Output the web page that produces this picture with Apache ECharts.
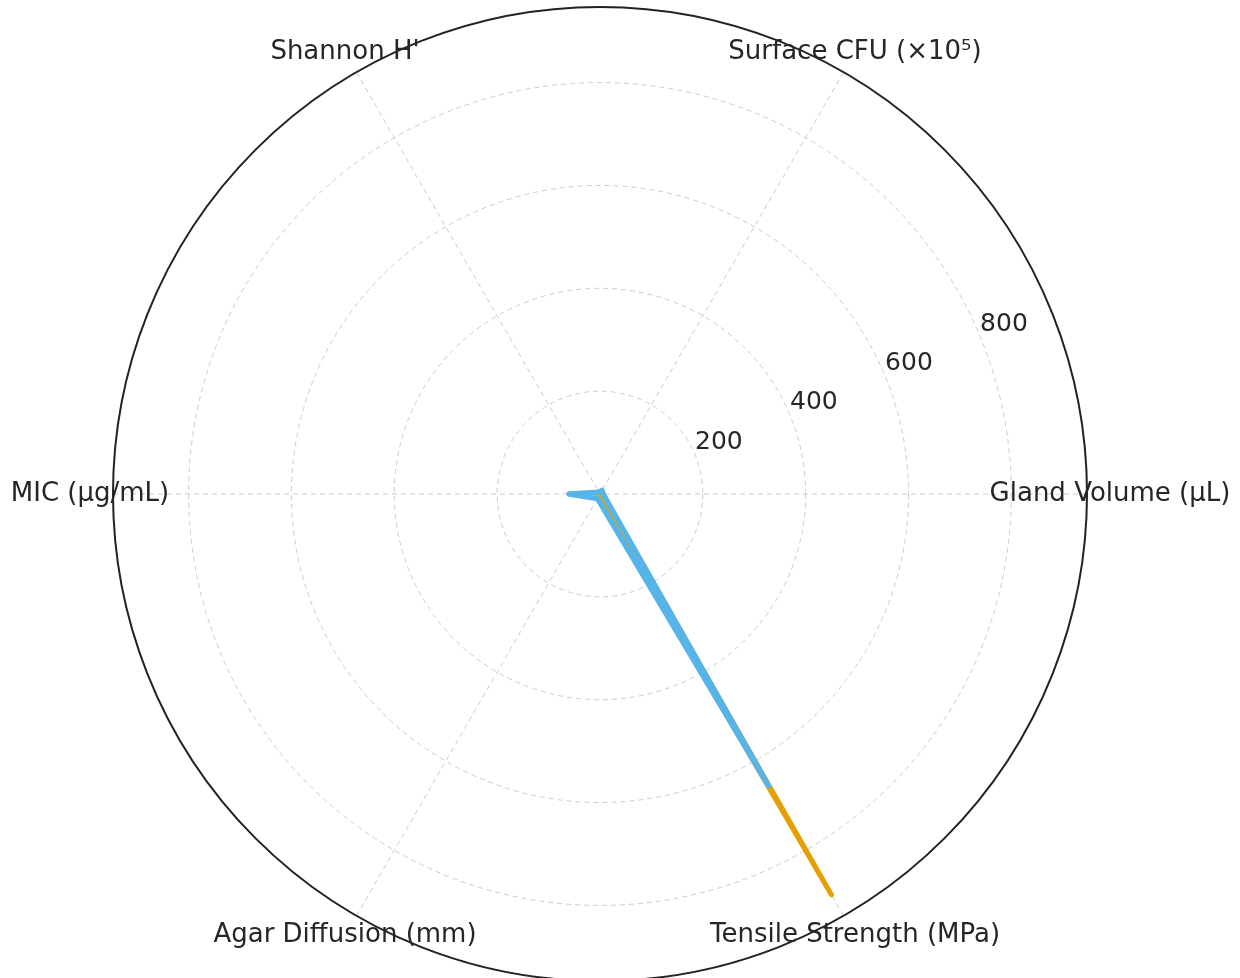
<!DOCTYPE html>
<html>
<head>
<meta charset="utf-8">
<script src="https://cdn.jsdelivr.net/npm/echarts@6/dist/echarts.min.js"></script>
<style>
html,body{margin:0;padding:0;background:#fff;}
#chart{width:1240px;height:978px;}
</style>
</head>
<body>
<div id="chart"></div>
<script>
const categories = ['Gland Volume (µL)', 'Surface CFU (×10⁵)', "Shannon H'", 'MIC (µg/mL)', 'Agar Diffusion (mm)', 'Tensile Strength (MPa)'];
const orangeValues = [5, 4, 3, 6, 5, 900];
const blueValues = [6, 8, 4, 60, 10, 655];
const radialTicks = [200, 400, 600, 800];
const radialMax = 947;

const step = 360 / categories.length;
function closedPoints(vals) {
  const pts = vals.map((v, i) => [v, i * step]);
  pts.push([vals[0], 360]);
  return pts;
}
// category labels anchored on the outer ring, pushed outward by a fixed gap
const labelGap = 23;
const labelItems = categories.map((c, i) => {
  const a = i * step * Math.PI / 180;
  return {
    value: [radialMax, i * step],
    label: {offset: [labelGap * Math.cos(a), -labelGap * Math.sin(a)]}
  };
});

const chart = echarts.init(document.getElementById('chart'), null, {renderer: 'canvas'});
const font = 'DejaVu Sans';
const textColor = '#262626';
const gridColor = '#cccccc';

chart.setOption({
  backgroundColor: '#ffffff',
  animation: false,
  polar: [
    {center: [600, 494], radius: 487},
    {center: [600, 494], radius: 487}
  ],
  angleAxis: [
    {
      polarIndex: 0,
      type: 'value', min: 0, max: 360, interval: step,
      startAngle: 0, clockwise: false,
      axisLine: {show: true, lineStyle: {color: '#222222', width: 2}},
      axisTick: {show: false},
      axisLabel: {show: false},
      splitLine: {show: true, lineStyle: {color: gridColor, type: [5, 4], width: 1}}
    },
    {
      polarIndex: 1,
      type: 'value', min: 0, max: 360,
      startAngle: 22.5, clockwise: false,
      axisLine: {show: false}, axisTick: {show: false}, axisLabel: {show: false}, splitLine: {show: false}
    }
  ],
  radiusAxis: [
    {
      polarIndex: 0,
      type: 'value', min: 0, max: radialMax, interval: 200,
      axisLine: {show: false}, axisTick: {show: false}, axisLabel: {show: false},
      splitLine: {show: true, lineStyle: {color: gridColor, type: [5, 4], width: 1}}
    },
    {
      polarIndex: 1,
      type: 'value', min: 0, max: radialMax, interval: 200,
      axisLine: {show: false}, axisTick: {show: false}, splitLine: {show: false},
      axisLabel: {
        show: true, rotate: 0, margin: 0, fontFamily: font, fontSize: 25, color: textColor,
        align: 'left', verticalAlign: 'bottom',
        formatter: v => (radialTicks.indexOf(v) >= 0 ? String(v) : '')
      }
    }
  ],
  series: [
    {
      type: 'line', coordinateSystem: 'polar', polarIndex: 0,
      data: closedPoints(orangeValues), symbol: 'none', z: 3,
      lineStyle: {color: '#E69F00', width: 5, cap: 'round', join: 'round'}
    },
    {
      type: 'line', coordinateSystem: 'polar', polarIndex: 0,
      data: closedPoints(blueValues), symbol: 'none', z: 4,
      lineStyle: {color: '#56B4E9', width: 5.5, cap: 'round', join: 'round'}
    },
    {
      type: 'scatter', coordinateSystem: 'polar', polarIndex: 0,
      data: labelItems, symbolSize: 0, clip: false, silent: true, z: 5,
      itemStyle: {opacity: 1},
      label: {
        show: true, position: 'inside', align: 'center', verticalAlign: 'middle',
        fontFamily: font, fontSize: 26, color: textColor, opacity: 1,
        formatter: p => categories[p.dataIndex]
      }
    }
  ]
});
</script>
</body>
</html>
